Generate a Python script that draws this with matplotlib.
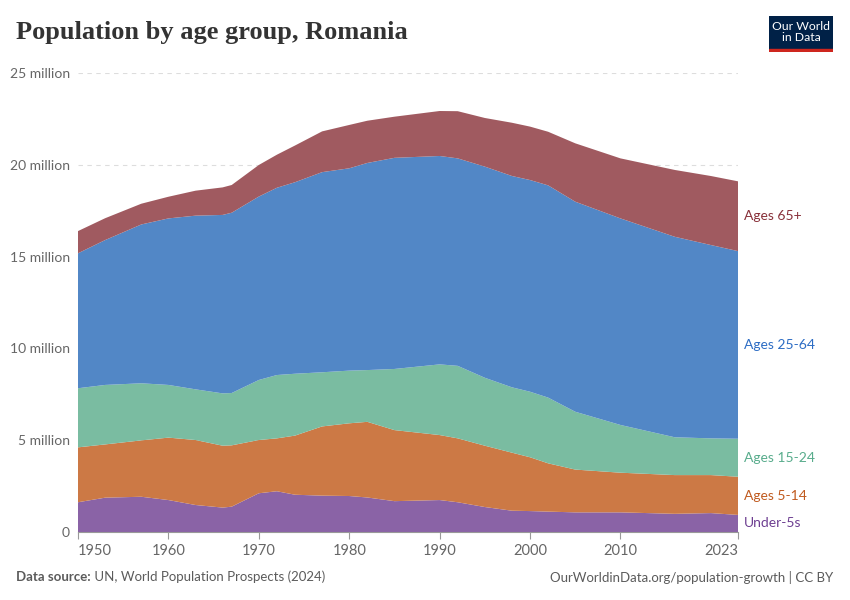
import numpy as np
import matplotlib.pyplot as plt
from matplotlib.patches import Rectangle

# values in millions
years = [1950, 1953, 1957, 1960, 1963, 1966, 1967, 1970, 1972, 1974, 1977, 1980, 1982,
         1985, 1990, 1992, 1995, 1998, 2000, 2002, 2005, 2010, 2016, 2020, 2023]
under5 = [1.62, 1.87, 1.92, 1.74, 1.47, 1.33, 1.38, 2.11, 2.22, 2.03, 1.98, 1.96, 1.88,
          1.68, 1.74, 1.62, 1.36, 1.16, 1.14, 1.11, 1.07, 1.07, 0.99, 1.03, 0.93]
ages_5_14 = [2.99, 2.90, 3.07, 3.40, 3.54, 3.37, 3.34, 2.90, 2.88, 3.22, 3.77, 3.96, 4.12,
             3.87, 3.54, 3.48, 3.34, 3.16, 2.93, 2.63, 2.33, 2.16, 2.11, 2.07, 2.08]
ages_15_24 = [3.22, 3.24, 3.11, 2.87, 2.76, 2.85, 2.85, 3.27, 3.45, 3.37, 2.95, 2.87, 2.82,
              3.33, 3.85, 3.95, 3.70, 3.56, 3.57, 3.58, 3.15, 2.60, 2.06, 2.00, 2.07]
ages_25_64 = [7.35, 7.89, 8.65, 9.07, 9.46, 9.72, 9.82, 9.99, 10.20, 10.43, 10.90, 11.02, 11.28,
              11.50, 11.35, 11.30, 11.50, 11.51, 11.53, 11.56, 11.44, 11.25, 10.92, 10.53, 10.22]
ages_65 = [1.21, 1.19, 1.13, 1.18, 1.36, 1.50, 1.51, 1.72, 1.80, 2.00, 2.22, 2.36, 2.30,
           2.24, 2.45, 2.57, 2.65, 2.90, 2.91, 2.92, 3.18, 3.27, 3.64, 3.76, 3.80]

series = [under5, ages_5_14, ages_15_24, ages_25_64, ages_65]
names = ['Under-5s', 'Ages 5-14', 'Ages 15-24', 'Ages 25-64', 'Ages 65+']
fill_colors = ['#8a63a6', '#cc7945', '#7abca1', '#5287c6', '#a05a60']
text_colors = ['#6d3e91', '#c05a1e', '#58ac8c', '#2c6cc4', '#883039']

xticks = [1950, 1960, 1970, 1980, 1990, 2000, 2010, 2023]
yticks = [0, 5, 10, 15, 20, 25]
ytick_labels = ['0', '5 million', '10 million', '15 million', '20 million', '25 million']

plt.rcParams['font.family'] = ['Lato', 'DejaVu Sans']

fig = plt.figure(figsize=(8.5, 6), dpi=100)
ax = fig.add_axes([78 / 850, 1 - 532 / 600, 660 / 850, 459 / 600])

ax.stackplot(years, *series, colors=fill_colors, linewidth=0, zorder=2)

ax.set_xlim(1950, 2023)
ax.set_ylim(0, 25)
ax.set_yticks(yticks)
ax.set_yticklabels(ytick_labels)
ax.set_xticks(xticks)
ax.grid(axis='y', color='#dddddd', linestyle=(0, (4, 4)), linewidth=0.8, zorder=0)
ax.set_axisbelow(True)
for s in ['top', 'right', 'left']:
    ax.spines[s].set_visible(False)
ax.spines['bottom'].set_color('#999999')
ax.spines['bottom'].set_zorder(3)
ax.tick_params(axis='y', length=0, labelsize=10, labelcolor='#666666', pad=6)
ax.tick_params(axis='x', length=5, color='#999999', labelsize=10.5, labelcolor='#666666')
ax.get_xticklabels()[0].set_horizontalalignment('left')
ax.get_xticklabels()[-1].set_horizontalalignment('right')

# end labels, centred on each band at the last year
cum = np.cumsum([s[-1] for s in series])
lows = np.concatenate([[0], cum[:-1]])
for name, col, lo, hi in zip(names, text_colors, lows, cum):
    ax.annotate(name, xy=(years[-1], (lo + hi) / 2), xytext=(4, 0),
                textcoords='offset points', va='center', ha='left',
                fontsize=10, color=col, annotation_clip=False)

fig.text(16 / 850, 1 - 32 / 600, 'Population by age group, Romania',
         fontsize=19, fontweight='bold', family=['Liberation Serif', 'DejaVu Serif'],
         color='#333333', va='center', ha='left')

# logo
logo = fig.add_axes([769 / 850, 1 - 52 / 600, 64 / 850, 36 / 600])
logo.set_xlim(0, 1)
logo.set_ylim(0, 1)
logo.axis('off')
logo.add_patch(Rectangle((0, 0), 1, 1, color='#002147'))
logo.add_patch(Rectangle((0, 0), 1, 0.08, color='#ce261e'))
logo.text(0.5, 0.56, 'Our World\nin Data', color='white', fontsize=8.8,
          ha='center', va='center', linespacing=1.0)

src = fig.text(16 / 850, 1 - 577 / 600, 'Data source:', fontsize=9.5, fontweight='bold',
               color='#5b5b5b', va='center', ha='left')
ax.annotate(' UN, World Population Prospects (2024)', xy=(1, 0.5), xycoords=src,
            fontsize=9.5, color='#5b5b5b', va='center', ha='left')
fig.text(833 / 850, 1 - 577 / 600, 'OurWorldinData.org/population-growth | CC BY',
         fontsize=9.5, color='#5b5b5b', va='center', ha='right')

fig.savefig('out.png', dpi=100, facecolor='white')
